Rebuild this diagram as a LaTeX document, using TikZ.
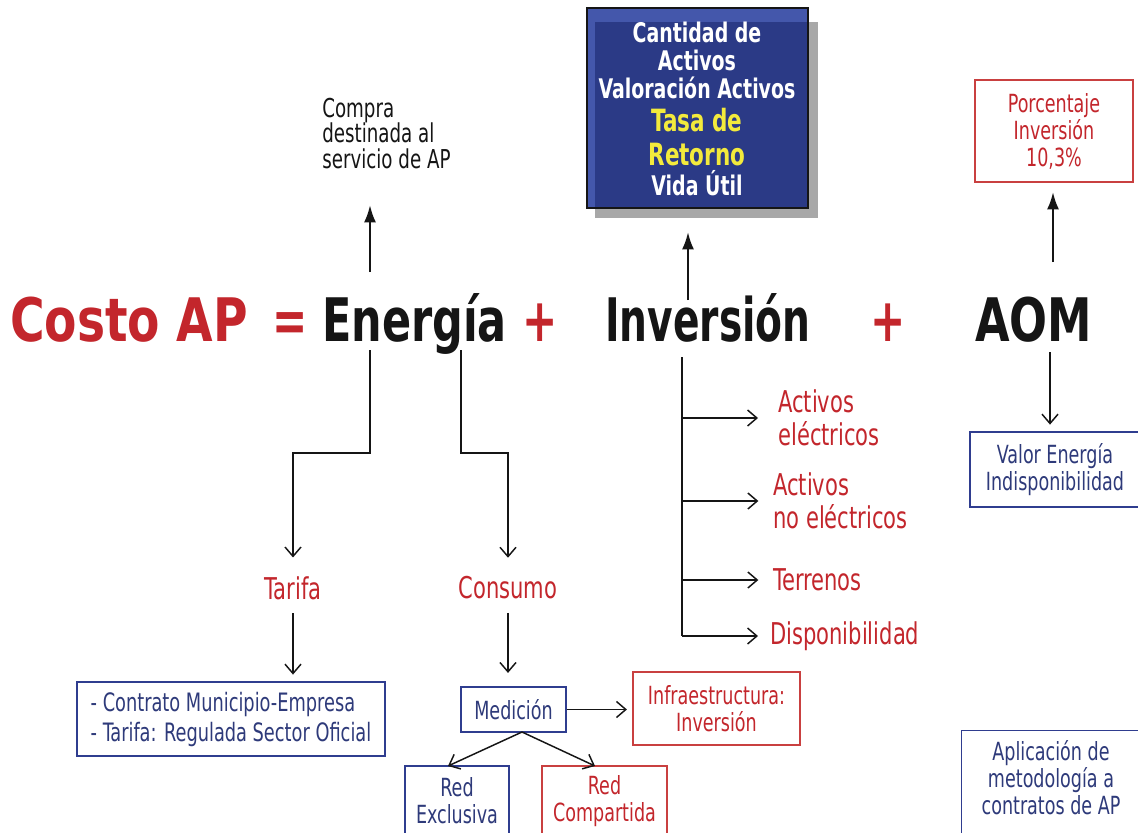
\documentclass[tikz,border=0pt]{standalone}
\usepackage{fontspec}
\setmainfont{DejaVu Sans Condensed}[FakeStretch=0.78]
\usetikzlibrary{arrows.meta}
\definecolor{cred}{HTML}{C3262C}
\definecolor{cblack}{HTML}{151515}
\definecolor{bluebd}{HTML}{2F3D8F}
\definecolor{bluetx}{HTML}{2E3A7A}
\definecolor{redbd}{HTML}{C94040}
\definecolor{navylt}{HTML}{4457AB}
\definecolor{navydk}{HTML}{2B3A86}
\definecolor{shadowg}{HTML}{A8A8A8}
\definecolor{yel}{HTML}{F3EA3C}
\begin{document}
\begin{tikzpicture}[x=0.75pt,y=-0.75pt,
  bigt/.style={font=\fontsize{45}{50}\selectfont\bfseries, inner sep=0pt, text=cblack},
  smallt/.style={font=\fontsize{19.5}{19}\selectfont, inner sep=0pt, align=left, text=cblack},
  lbl/.style={font=\fontsize{22.5}{24.75}\selectfont, inner sep=0pt, align=left, text=cred},
  boxt/.style={font=\fontsize{18.75}{20.25}\selectfont, align=center, inner sep=0pt, line width=1.1pt},
  bbox/.style={boxt, draw=bluebd, text=bluetx},
  rbox/.style={boxt, draw=redbd, text=cred},
  wline/.style={font=\fontsize{20.25}{21}\selectfont\bfseries, text=white, inner sep=0pt, anchor=base},
  yline/.style={font=\fontsize{23}{24}\selectfont\bfseries, text=yel, inner sep=0pt, anchor=base},
  barb/.style={-{Straight Barb[length=7pt,width=12pt,line width=1.1pt]}, line width=1.1pt, draw=cblack},
  plain/.style={line width=1.1pt, draw=cblack},
  uparr/.style={-{Latex[length=13pt,width=9pt]}, line width=1.8pt, draw=cblack}
]
\clip (0,0) rectangle (1138,832);
\fill[white] (0,0) rectangle (1138,832);

% main equation
\node[bigt, text=cred, anchor=base west] (costo) at (10,341) {\scalebox{1.12}[1]{Costo AP}};
\node[bigt, text=cred, anchor=base] (eq) at (290,341) {=};
\node[bigt, anchor=base west] (energia) at (322,341) {\scalebox{1.02}[1]{Energía}};
\node[bigt, text=cred, anchor=base] (plus1) at (540,341) {+};
\node[bigt, anchor=base west] (inversion) at (605,341) {\scalebox{0.93}[1]{Inversión}};
\node[bigt, text=cred, anchor=base] (plus2) at (888,341) {+};
\node[bigt, anchor=base west] (aom) at (975,341) {\scalebox{1.06}[1]{AOM}};

% Compra
\node[smallt, anchor=north west] (compra) at (322,98) {Compra\\destinada al\\servicio de AP};
\coordinate (cA) at (370,272);
\coordinate (cB) at (370,205);
\draw[uparr] (cA) -- (cB);

% blue box with shadow
\fill[shadowg] (595,22) rectangle (818,218);
\fill[navylt] (587,8) rectangle (808,208);
\fill[navydk] (595,22) rectangle (808,208);
\node[draw=cblack, line width=0.8pt, minimum width=165.75pt, minimum height=150pt, inner sep=0pt] (vbox) at (697.5,108) {};
\node[wline] (v1) at (697,42) {Cantidad de};
\node[wline] (v2) at (697,70) {Activos};
\node[wline] (v3) at (697,98) {Valoración Activos};
\node[yline] (v4) at (697,131) {Tasa de};
\node[yline] (v5) at (697,165) {Retorno};
\node[wline] (v6) at (697,195) {Vida Útil};
\coordinate (iA) at (688,300);
\coordinate (iB) at (688,232);
\draw[uparr] (iA) -- (iB);

% Porcentaje
\node[rbox, minimum width=118.5pt, minimum height=76.5pt] (porc) at (1054,131) {Porcentaje\\Inversión\\10,3\%};
\coordinate (aA) at (1053,262);
\coordinate (aB) at (1053,192);
\draw[uparr] (aA) -- (aB);

% AOM down
\node[bbox, minimum width=127.5pt, minimum height=56.25pt] (valor) at (1055,469.5) {Valor Energía\\Indisponibilidad};
\coordinate (aC) at (1050,352);
\draw[barb, shorten >=5pt] (aC) -- (aC |- valor.north);

% Aplicacion
\node[boxt, text=bluetx, minimum width=133.5pt, minimum height=70.5pt] (aplic) at (1051,778) {Aplicación de\\metodología a\\contratos de AP};
\draw[draw=bluebd, line width=1.1pt] ([yshift=-20pt]aplic.south west) -- (aplic.north west) -- (aplic.north east) -- ([yshift=-20pt]aplic.south east);

% Energia branches
\node[lbl, anchor=center] (tarifa) at (293,588) {Tarifa};
\node[lbl, anchor=center] (consumo) at (508,588) {Consumo};
\coordinate (e1) at (370,350);
\coordinate (e2) at (461,350);
\draw[barb, shorten >=14pt] (e1) -- (370,453) -| (tarifa.north);
\draw[barb, shorten >=14pt] (e2) -- (461,453) -| (consumo.north);

\node[bbox, minimum width=231pt, minimum height=55.5pt, align=left, font=\fontsize{19}{22.5}\selectfont] (contrato) at (231,719) {- Contrato Municipio-Empresa\\- Tarifa: Regulada Sector Oficial};
\node[bbox, minimum width=78.75pt, minimum height=33.75pt] (medicion) at (513.5,709.5) {Medición};
\node[rbox, minimum width=125.25pt, minimum height=54.75pt] (infra) at (716.5,708.5) {Infraestructura:\\Inversión};
\node[bbox, minimum width=78pt, minimum height=52.5pt] (rexc) at (457,801) {Red\\Exclusiva};
\node[rbox, minimum width=93.75pt, minimum height=52.5pt] (rcomp) at (604.5,801) {Red\\Compartida};

\draw[barb, shorten <=10pt, shorten >=5pt] (tarifa.south) -- (tarifa.south |- contrato.north);
\draw[barb, shorten <=10pt, shorten >=10pt] (consumo.south) -- (consumo.south |- medicion.north);
\draw[barb, shorten >=4pt] (medicion.east) -- (medicion.east -| infra.west);
\coordinate (mB) at (522,732);
\draw[barb] (mB) -- (448,766);
\draw[barb] (mB) -- (595,766);

% Inversion branch
\node[lbl, anchor=west] (act1) at (778,418) {Activos\\eléctricos};
\node[lbl, anchor=west] (act2) at (773,501) {Activos\\no eléctricos};
\node[lbl, anchor=west] (terr) at (773,580) {Terrenos};
\node[lbl, anchor=west] (disp) at (770,636) {Disponibilidad};
\coordinate (i1) at (682,357);
\draw[plain] (i1) -- (i1 |- disp.west);
\draw[barb, shorten >=15pt] (i1 |- act1.west) -- (act1.west);
\draw[barb, shorten >=11pt] (i1 |- act2.west) -- (act2.west);
\draw[barb, shorten >=11pt] (i1 |- terr.west) -- (terr.west);
\draw[barb, shorten >=9pt] (i1 |- disp.west) -- (disp.west);
\end{tikzpicture}
\end{document}
